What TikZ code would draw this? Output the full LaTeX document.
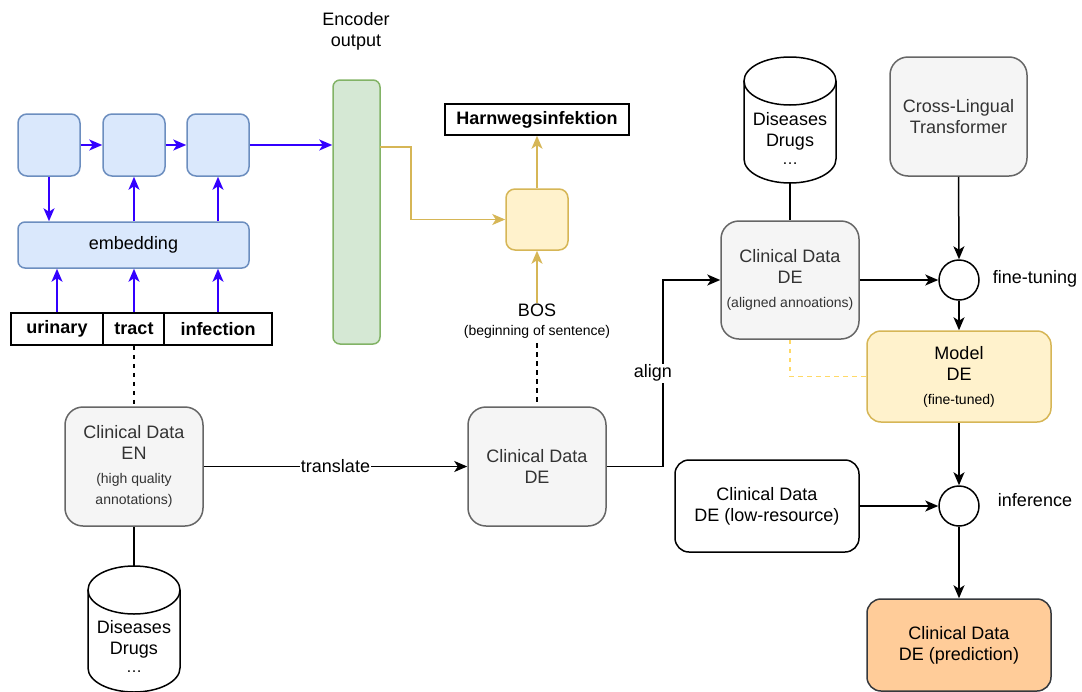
\documentclass[tikz,border=0pt]{standalone}
\usepackage{fontspec}
\setmainfont{Liberation Sans}
\usetikzlibrary{arrows.meta,calc}
\definecolor{bfill}{HTML}{DAE8FC}
\definecolor{bline}{HTML}{6C8EBF}
\definecolor{barr}{HTML}{3300FF}
\definecolor{gfill}{HTML}{D5E8D4}
\definecolor{gline}{HTML}{82B366}
\definecolor{yfill}{HTML}{FFF2CC}
\definecolor{yline}{HTML}{D6B656}
\definecolor{grfill}{HTML}{F5F5F5}
\definecolor{grline}{HTML}{666666}
\definecolor{grtext}{HTML}{333333}
\definecolor{ofill}{HTML}{FFCC99}
\definecolor{oline}{HTML}{36393D}
\definecolor{ydash}{HTML}{FFD966}
\newcommand\smalltxt{\fontsize{14}{21}\selectfont}
\begin{document}
\begin{tikzpicture}[x=1pt,y=-1pt, line width=1.5pt,
  every node/.style={font=\fontsize{18}{21}\selectfont, inner sep=0pt, align=center},
  tip/.style={-{Stealth[length=13pt,width=11pt,inset=3.5pt]}},
  bbox/.style={draw=bline, fill=bfill, rounded corners=9pt, minimum width=62pt, minimum height=62pt},
  barrow/.style={tip, draw=barr},
  garrow/.style={tip, draw=yline},
  karrow/.style={tip, draw=black},
  word/.style={draw=black, fill=white, font=\fontsize{18}{21}\selectfont\bfseries, minimum height=32pt},
  graybox/.style={draw=grline, fill=grfill, text=grtext, rounded corners=18pt, minimum width=138pt, minimum height=119pt},
  circ/.style={circle, draw=black, fill=white, minimum size=40pt},
  dashline/.style={dash pattern=on 4.5pt off 4.5pt},
  lbl/.style={fill=white, inner sep=1pt}
]
\useasboundingbox (0,0) rectangle (1082,691);

% ---------- encoder part ----------
\node[bbox] (b1) at (49,145) {};
\node[bbox] (b2) at (134,145) {};
\node[bbox] (b3) at (218,145) {};
\node[draw=bline, fill=bfill, rounded corners=7pt, minimum width=231pt, minimum height=46pt] (emb) at (133.5,245) {embedding};
\node[word, minimum width=92pt] (w1) at (57,329) {urinary};
\node[word, minimum width=61pt] (w2) at (134,329) {tract};
\node[word, minimum width=108pt] (w3) at (218,329) {infection};
\node[draw=gline, fill=gfill, rounded corners=7pt, minimum width=47pt, minimum height=264pt] (enc) at (356.5,212) {};
\node (enclbl) at (356,31) {Encoder\\output};

\draw[barrow] (b1) -- (b2);
\draw[barrow] (b2) -- (b3);
\draw[barrow] (b3.east) -- (b3.east -| enc.west);
\draw[barrow] (b1.south) -- (b1.south |- emb.north);
\draw[barrow] (emb.north -| b2) -- (b2.south);
\draw[barrow] (emb.north -| b3) -- (b3.south);
\draw[barrow] (w1.north) -- (w1.north |- emb.south);
\draw[barrow] (w2.north) -- (w2.north |- emb.south);
\draw[barrow] (w3.north) -- (w3.north |- emb.south);

% ---------- decoder part ----------
\node[draw=yline, fill=yfill, rounded corners=9pt, minimum width=62pt, minimum height=61pt] (dec) at (537,219.5) {};
\node[draw=black, fill=white, font=\fontsize{18}{21}\selectfont\bfseries, minimum width=184pt, minimum height=31pt] (harn) at (537,119.5) {Harnwegsinfektion};
\node (bos) at (537,310) {BOS};
\node[font=\smalltxt] (bossub) at (537,332) {(beginning of sentence)};
\coordinate (encout) at (380,147);
\draw[garrow] (encout) -- (411,147) |- (dec.west);
\draw[garrow] (dec.north) -- (harn.south);
\draw[garrow] (bos.north) -- (dec.south);

% ---------- clinical data ----------
\node[graybox] (en) at (134,466.5) {Clinical Data\\EN\\[3pt]{\smalltxt (high quality}\\{\smalltxt annotations)}};
\node[graybox] (dem) at (537,466.5) {Clinical Data\\DE};
\draw[dashline] (w2.south) -- (en.north);
\draw[dashline] (bossub.south) ++(0,4) -- (dem.north);
\draw[karrow] (en.east) -- node[lbl]{translate} (dem.west);

% cylinder bottom-left
\fill[white] (88,590) -- (88,668) arc[start angle=180,end angle=0,x radius=46,y radius=24] -- (180,590) arc[start angle=0,end angle=-180,x radius=46,y radius=24] -- cycle;
\draw (88,590) -- (88,668) arc[start angle=180,end angle=0,x radius=46,y radius=24] -- (180,590);
\draw (134,590) ellipse[x radius=46,y radius=24];
\node (db1) at (134,646) {Diseases\\Drugs\\[-3pt]{\fontsize{16}{18}\selectfont …}};
\coordinate (db1top) at (134,566);
\draw (en.south) -- (db1top);

% cylinder top-right
\fill[white] (744,81) -- (744,159) arc[start angle=180,end angle=0,x radius=46,y radius=24] -- (836,81) arc[start angle=0,end angle=-180,x radius=46,y radius=24] -- cycle;
\draw (744,81) -- (744,159) arc[start angle=180,end angle=0,x radius=46,y radius=24] -- (836,81);
\draw (790,81) ellipse[x radius=46,y radius=24];
\node (db2) at (790,138) {Diseases\\Drugs\\[-3pt]{\fontsize{16}{18}\selectfont …}};
\coordinate (db2bot) at (790,183);

\node[graybox, minimum height=118pt] (ali) at (790,280) {Clinical Data\\DE\\[3pt]{\smalltxt (aligned annoations)}};
\draw (db2bot) -- (ali.north);
\draw[karrow] (dem.east) -- (663,466.5) -- node[lbl, xshift=-10pt]{align} (663,280) -- (ali.west);

\node[graybox, minimum width=137pt] (clt) at (958.5,116.5) {Cross-Lingual\\Transformer};
\node[circ] (ft) at (959,280) {};
\node (ftlbl) at (1035,279) {fine-tuning};
\node[draw=yline, fill=yfill, rounded corners=14pt, minimum width=184pt, minimum height=91pt] (model) at (959,376.5) {Model\\DE\\[3pt]{\smalltxt (fine-tuned)}};
\draw[karrow] (ali.east) -- (ft.west);
\draw[karrow] (clt.south) -- (ft.north);
\draw[karrow] (ft.south) -- (model.north);
\draw[ydash, dashline] (ali.south) |- (model.west);

\node[draw=black, fill=white, rounded corners=14pt, minimum width=184pt, minimum height=92pt] (low) at (767,506) {Clinical Data\\DE (low-resource)};
\node[circ] (inf) at (959,506) {};
\node (inflbl) at (1035,500) {inference};
\node[draw=oline, fill=ofill, rounded corners=14pt, minimum width=184pt, minimum height=92pt] (pred) at (959,645) {Clinical Data\\DE (prediction)};
\draw[karrow] (model.south) -- (inf.north);
\draw[karrow] (low.east) -- (inf.west);
\draw[karrow] (inf.south) -- (pred.north);
\end{tikzpicture}
\end{document}
